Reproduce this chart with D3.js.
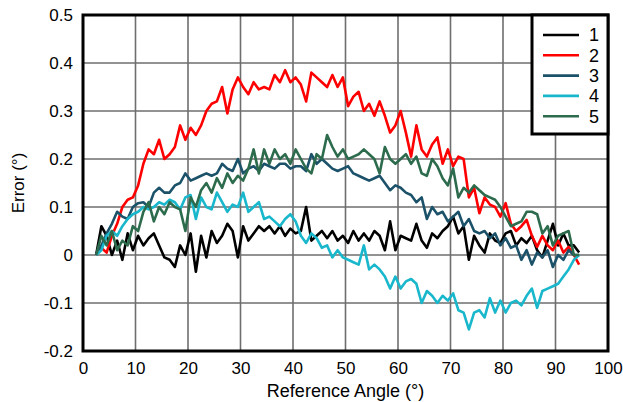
<!DOCTYPE html>
<html><head><meta charset="utf-8">
<script src="https://cdn.jsdelivr.net/npm/d3@7/dist/d3.min.js"></script>
<style>body{margin:0;background:#fff}svg{display:block}text{font-family:"Liberation Sans",Arial,sans-serif}</style>
</head><body>
<svg id="c" width="623" height="402"></svg>
<script>
const angles = d3.range(2.5, 95, 1);
const s1 = [0.00,0.06,0.04,0.00,0.03,-0.01,0.045,0.01,0.04,0.02,0.035,0.045,0.02,-0.005,-0.01,-0.025,0.02,0.00,0.045,-0.035,0.04,-0.005,0.05,0.025,0.04,0.065,0.05,-0.005,0.06,0.03,0.045,0.06,0.05,0.06,0.045,0.06,0.04,0.055,0.045,0.05,0.1,0.03,0.04,0.05,0.035,0.05,0.03,0.04,0.025,0.05,0.03,0.045,0.03,0.05,0.04,0.01,0.07,0.01,0.04,0.035,0.03,0.065,0.03,0.015,0.045,0.035,0.05,0.06,0.08,0.045,0.06,-0.01,0.04,0.02,0.005,0.045,0.03,0.025,0.045,0.05,0.02,0.035,0.025,0.04,0.01,-0.005,0.03,0.065,0.02,0.045,0.02,0.02,0.005];
const s2 = [0.0,0.015,0.005,0.04,0.065,0.1,0.115,0.12,0.145,0.19,0.22,0.21,0.24,0.2,0.21,0.225,0.27,0.24,0.265,0.25,0.27,0.3,0.315,0.32,0.35,0.295,0.345,0.37,0.35,0.335,0.36,0.345,0.35,0.345,0.375,0.36,0.385,0.36,0.37,0.355,0.32,0.38,0.37,0.36,0.35,0.375,0.35,0.37,0.31,0.33,0.34,0.3,0.315,0.29,0.32,0.29,0.255,0.27,0.3,0.255,0.205,0.27,0.22,0.205,0.23,0.245,0.19,0.22,0.185,0.205,0.2,0.12,0.14,0.087,0.12,0.105,0.1,0.08,0.108,0.065,0.05,0.06,0.073,0.04,0.017,0.04,0.02,0.01,0.03,0.005,0.017,0.0,-0.02];
const s3 = [0.0,0.02,0.045,0.065,0.09,0.08,0.075,0.1,0.108,0.11,0.1,0.13,0.14,0.13,0.13,0.145,0.15,0.17,0.155,0.16,0.165,0.17,0.165,0.17,0.19,0.18,0.175,0.2,0.17,0.18,0.185,0.175,0.19,0.185,0.18,0.19,0.19,0.18,0.185,0.185,0.175,0.21,0.19,0.2,0.19,0.18,0.175,0.18,0.185,0.17,0.165,0.16,0.155,0.16,0.165,0.15,0.135,0.145,0.14,0.13,0.125,0.11,0.12,0.075,0.1,0.085,0.09,0.07,0.08,0.09,0.06,0.075,0.05,0.045,0.05,0.035,0.045,0.02,0.035,0.015,0.02,-0.01,0.01,-0.02,0.005,-0.005,0.01,-0.025,0.0,-0.01,0.01,0.0,0.0];
const s4 = [0.0,0.01,0.04,0.05,0.04,0.06,0.075,0.085,0.09,0.1,0.095,0.1,0.11,0.105,0.115,0.11,0.095,0.12,0.125,0.075,0.12,0.1,0.095,0.13,0.11,0.09,0.105,0.1,0.13,0.09,0.1,0.11,0.075,0.08,0.07,0.06,0.075,0.085,0.07,0.04,0.025,0.045,0.035,0.015,0.02,-0.005,0.01,-0.005,-0.01,-0.015,-0.02,0.02,-0.03,-0.02,-0.03,-0.045,-0.07,-0.045,-0.07,-0.055,-0.05,-0.06,-0.1,-0.075,-0.085,-0.1,-0.085,-0.095,-0.08,-0.115,-0.12,-0.155,-0.12,-0.115,-0.13,-0.09,-0.12,-0.095,-0.12,-0.1,-0.095,-0.105,-0.085,-0.07,-0.11,-0.075,-0.07,-0.065,-0.06,-0.045,-0.03,-0.01,0.0];
const s5 = [0.0,0.04,0.02,0.05,0.01,0.03,0.02,0.06,0.05,0.09,0.11,0.07,0.1,0.085,0.11,0.1,0.095,0.05,0.12,0.1,0.135,0.15,0.13,0.16,0.14,0.17,0.15,0.165,0.155,0.18,0.22,0.17,0.22,0.19,0.22,0.2,0.21,0.19,0.22,0.2,0.18,0.17,0.21,0.2,0.25,0.225,0.205,0.22,0.2,0.205,0.21,0.22,0.21,0.2,0.17,0.225,0.2,0.19,0.2,0.21,0.19,0.205,0.17,0.165,0.2,0.185,0.16,0.145,0.18,0.12,0.14,0.13,0.145,0.135,0.125,0.12,0.115,0.1,0.08,0.06,0.065,0.07,0.09,0.09,0.085,0.045,0.06,0.02,0.04,0.045,0.05,0.0,0.0];
const seriesNames = ["1","2","3","4","5"];
const seriesColors = ["#000000","#ff0000","#1b5269","#19b7cc","#2d6b4d"];
const xTicks = [0,10,20,30,40,50,60,70,80,90,100];
const yTicks = [-0.2,-0.1,0,0.1,0.2,0.3,0.4,0.5];
const yTickLabels = ["-0.2","-0.1","0","0.1","0.2","0.3","0.4","0.5"];

const allSeries = [s1,s2,s3,s4,s5];
const svg = d3.select("#c");
const L = 83, R = 608, T = 15, B = 351;
const x = d3.scaleLinear().domain([0,100]).range([L,R]);
const y = d3.scaleLinear().domain([-0.2,0.5]).range([B,T]);

// grid
svg.append("g").selectAll("line").data(xTicks).join("line")
  .attr("x1",d=>x(d)).attr("x2",d=>x(d)).attr("y1",T).attr("y2",B)
  .attr("stroke","#6e6e6e").attr("stroke-width",1.6);
svg.append("g").selectAll("line").data(yTicks).join("line")
  .attr("x1",L).attr("x2",R).attr("y1",d=>y(d)).attr("y2",d=>y(d))
  .attr("stroke","#6e6e6e").attr("stroke-width",1.6);

// lines
const line = d3.line().x((d,i)=>x(angles[i])).y(d=>y(d));
allSeries.forEach((s,k)=>{
  svg.append("path").datum(s).attr("d",line).attr("fill","none")
    .attr("stroke",seriesColors[k]).attr("stroke-width",2.6).attr("stroke-linejoin","round");
});

// frame
svg.append("rect").attr("x",L).attr("y",T).attr("width",R-L).attr("height",B-T)
  .attr("fill","none").attr("stroke","#000").attr("stroke-width",3);

// axes
const xa = d3.axisBottom(x).tickValues(xTicks).tickSize(0).tickPadding(11);
const gx = svg.append("g").attr("transform",`translate(0,${B})`).call(xa);
gx.select(".domain").remove();
gx.selectAll("text").attr("font-size",17).attr("fill","#000").style("font-family","Liberation Sans, Arial, sans-serif");
const ya = d3.axisLeft(y).tickValues(yTicks).tickFormat((d,i)=>yTickLabels[i]).tickSize(0).tickPadding(10);
const gy = svg.append("g").attr("transform",`translate(${L},0)`).call(ya);
gy.select(".domain").remove();
gy.selectAll("text").attr("font-size",17).attr("fill","#000").style("font-family","Liberation Sans, Arial, sans-serif");

svg.append("text").attr("x",(L+R)/2).attr("y",397).attr("text-anchor","middle")
  .attr("font-size",18).text("Reference Angle (°)");
svg.append("text").attr("transform",`translate(24,${(T+B)/2}) rotate(-90)`).attr("text-anchor","middle")
  .attr("font-size",17).text("Error (°)");

// legend
const lg = svg.append("g");
lg.append("rect").attr("x",532).attr("y",T).attr("width",R-532).attr("height",119)
  .attr("fill","#fff").attr("stroke","#000").attr("stroke-width",3);
seriesNames.forEach((n,k)=>{
  const yy = 35 + k*20.3;
  lg.append("line").attr("x1",543).attr("x2",579).attr("y1",yy).attr("y2",yy)
    .attr("stroke",seriesColors[k]).attr("stroke-width",2.6);
  lg.append("text").attr("x",589).attr("y",yy).attr("dy","0.36em").attr("font-size",18).text(n);
});
</script>
</body></html>
